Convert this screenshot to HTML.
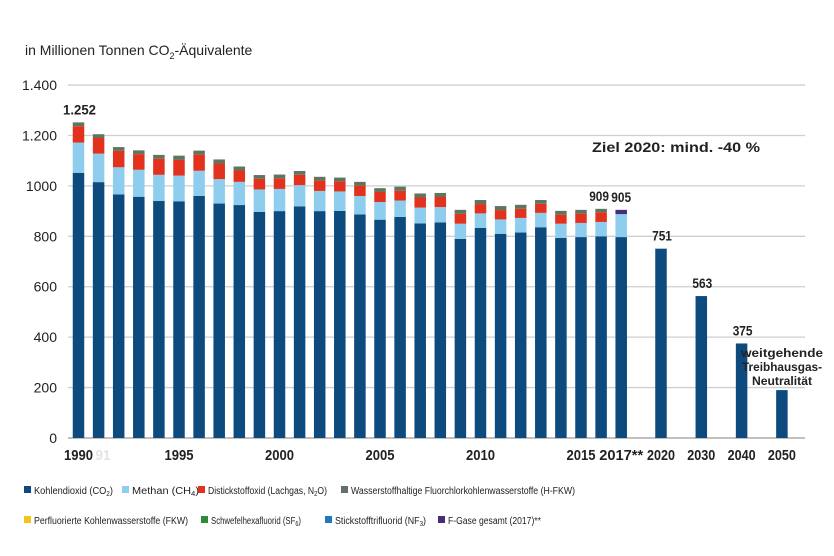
<!DOCTYPE html>
<html><head><meta charset="utf-8"><style>
body{margin:0;background:#fff}
svg{display:block;font-family:"Liberation Sans",sans-serif}
</style></head><body>
<svg id="c" width="834" height="556" viewBox="0 0 834 556">
<text x="25" y="55" font-size="14" fill="#222">in Millionen Tonnen CO<tspan font-size="9" dy="4">2</tspan><tspan dy="-4">-Äquivalente</tspan></text>
<g id="grid"></g><g id="bars"></g><g id="labels"></g>
<text x="592" y="152" font-size="14" font-weight="bold" textLength="168" lengthAdjust="spacingAndGlyphs" fill="#222">Ziel 2020: mind. -40 %</text>
<g font-size="12" font-weight="bold" text-anchor="middle" fill="#222">
<text x="782" y="357" textLength="82" lengthAdjust="spacingAndGlyphs">weitgehende</text><text x="782" y="371" textLength="80" lengthAdjust="spacingAndGlyphs">Treibhausgas-</text><text x="782" y="385" textLength="60" lengthAdjust="spacingAndGlyphs">Neutralität</text></g>
<g id="legend" font-size="10" fill="#222"></g>
</svg>
<script>
const years=["1990","1991","1992","1993","1994","1995","1996","1997","1998","1999","2000","2001","2002","2003","2004","2005","2006","2007","2008","2009","2010","2011","2012","2013","2014","2015","2016","2017"];
const co2=[1052,1015,966,957,940,939,960,930,924,897,900,919,900,901,887,866,877,851,855,790,833,810,815,836,794,797,800,797];
const ch4=[120,113,108,107,104,102,100,97,92,89,88,84,80,77,73,70,65,63,61,60,58,57,58,57,56,56,57,91];
const n2o=[65,62,65,62,64,62,64,62,45,42,42,41,41,40,41,40,39,40,40,39,37,37,36,36,36,37,38,0];
const fgas=[15,15,15,15,15,17,16,16,16,15,15,15,15,15,15,15,16,16,16,16,16,16,16,15,15,15,14,0];
const fgasTotal=[0,0,0,0,0,0,0,0,0,0,0,0,0,0,0,0,0,0,0,0,0,0,0,0,0,0,0,17];
const targetYears=["2020","2030","2040","2050"];
const targetVals=[751,563,375,190];
const yTicks=[0,200,400,600,800,1000,1200,1400];
const yTickLabels=["0","200","400","600","800","1000","1.200","1.400"];
const xLabels=["1990","1995","2000","2005","2010","2015","2017**"];
const valueLabels={"1990":"1.252","2016":"909","2017":"905"};
const legendItems=[[["Kohlendioxid (CO","2",")"],"#0d4a7e"],[["Methan (CH","4",")"],"#8fcdee"],[["Distickstoffoxid (Lachgas, N","2","O)"],"#e2321e"],[["Wasserstoffhaltige Fluorchlorkohlenwasserstoffe (H-FKW)"],"#666f70"],[["Perfluorierte Kohlenwasserstoffe (FKW)"],"#f2c318"],[["Schwefelhexafluorid (SF","6",")"],"#2e8b3a"],[["Stickstofftrifluorid (NF","3",")"],"#1f78c0"],[["F-Gase gesamt (2017)**"],"#4a2a7a"]];
const NS="http://www.w3.org/2000/svg";
const y=v=>438-v*0.2521;
const xi=i=>78.5+i*20.1;
const xt=i=>661+i*40.3;
const BW=11.5;
function mk(p,t,a){const e=document.createElementNS(NS,t);for(const k in a)e.setAttribute(k,a[k]);p.appendChild(e);return e;}
const grid=document.getElementById('grid'),bars=document.getElementById('bars'),labels=document.getElementById('labels'),leg=document.getElementById('legend');
yTicks.forEach((v,i)=>{
 const l=mk(grid,'line',{x1:68,x2:805,y1:y(v),y2:y(v),stroke:i?'#cfcfcf':'#9a9a9a','stroke-width':1.3});
 
 
 const t=mk(grid,'text',{x:57,y:y(v)+5,'font-size':14,'text-anchor':'end',fill:'#222'});t.textContent=yTickLabels[i];
 
 
});
const series=[[co2,'#0d4a7e','co2'],[ch4,'#8fcdee','ch4'],[n2o,'#e2321e','n2o'],[fgas,'#5f7560','fgas'],[fgasTotal,'#4a2a7a','fgas-total']];
function vlabel(x,yy,txt,name){
 const t=mk(labels,'text',{x:x,y:yy,'font-size':14,'font-weight':'bold','text-anchor':'middle',fill:'#222',textLength:txt.length*6.6,lengthAdjust:'spacingAndGlyphs'});t.textContent=txt;
 
 
}
years.forEach((yr,i)=>{
 let base=0;
 series.forEach(([arr,col,nm])=>{
  const v=arr[i];if(!v)return;
  const r=mk(bars,'rect',{x:xi(i)-BW/2,y:y(base+v),width:BW,height:v*0.2521,fill:col});
  
  
  base+=v;
 });
 if(valueLabels[yr]){const dx=yr==='1990'?1:(yr==='2016'?-2:0);vlabel(xi(i)+dx,y(base)-8,String(valueLabels[yr]),'value-label-'+yr);}
});
function xlabel(x,txt,fill,len,name){
 const t=mk(labels,'text',{x:x,y:460,'font-size':15,'font-weight':'bold','text-anchor':'middle',fill:fill,textLength:len,lengthAdjust:'spacingAndGlyphs'});t.textContent=txt;
 
 
}
targetYears.forEach((yr,i)=>{
 const r=mk(bars,'rect',{x:xt(i)-BW/2,y:y(targetVals[i]),width:BW,height:targetVals[i]*0.2521,fill:'#0d4a7e'});
 
 
 if(i<3)vlabel(xt(i)+1,y(targetVals[i])-8,String(targetVals[i]),'value-label-'+yr);
 xlabel(xt(i),yr,'#222',28,'x-tick-label');
});
xLabels.forEach(lb=>{
 const idx=years.indexOf(lb.replace('**',''));
 const isS=lb==='2017**';
 xlabel(xi(idx),lb,'#222',isS?44:29,'x-tick-label');
});
xlabel(xi(0)+24.5,'91','#e4e4e4',15,'faded-tick-label');
const lx=[24,122,198,341,24,201,325,438],ly=[494,494,494,494,524,524,524,524],le=[113,199,327,575,188,301,426,541];
legendItems.forEach(([parts,col],i)=>{
 const g=mk(leg,'g',{});
 
 
 mk(g,'rect',{x:lx[i],y:ly[i]-8,width:7,height:7,fill:col});
 const t=mk(g,'text',{x:lx[i]+10,y:ly[i],textLength:le[i]-lx[i]-10,lengthAdjust:'spacingAndGlyphs'});
 parts.forEach((p,k)=>{
  const s=mk(t,'tspan',k===1?{'font-size':7,dy:2}:(k===2?{dy:-2}:{}));
  s.textContent=p;
 });
});
</script>
</body></html>
